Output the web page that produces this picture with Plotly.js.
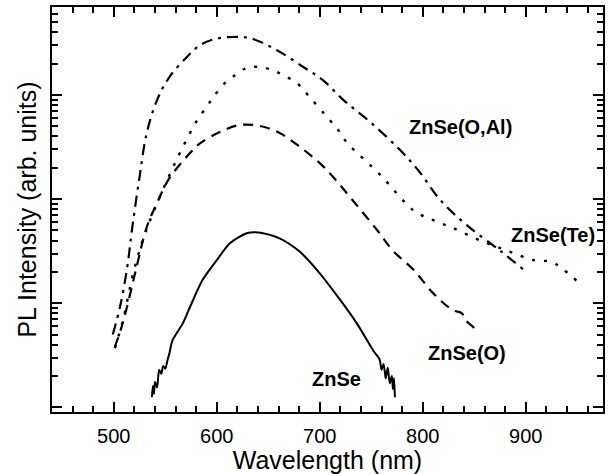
<!DOCTYPE html>
<html>
<head>
<meta charset="utf-8">
<script src="https://cdn.plot.ly/plotly-3.0.1.min.js"></script>
<style>html,body{margin:0;padding:0;background:#fff}#chart{width:610px;height:474px}</style>
</head>
<body>
<div id="chart"></div>
<script>
// ZnSe(O,Al) — dash-dot
const alX = [499, 506, 513, 518, 525, 532, 542, 554, 571, 584, 598, 613, 632, 658, 684, 703, 723, 749, 778, 797, 817, 843, 875, 898];
const alY = [5.0, 9.2, 22, 54, 163, 432, 895, 1490, 2320, 3030, 3450, 3610, 3530, 2710, 1860, 1390, 895, 550, 296, 182, 98, 56, 32, 21];

// ZnSe(Te) — dotted
const teX = [501, 509, 518, 528, 538, 554, 567, 581, 590, 596, 606, 618, 629, 642, 654, 664, 678, 691, 708, 718, 726, 759, 791, 810, 829, 856, 882, 907, 925, 934, 945, 953];
const teY = [3.7, 6.9, 17.8, 40, 73, 170, 316, 575, 767, 935, 1250, 1560, 1820, 1860, 1740, 1560, 1300, 935, 601, 460, 353, 170, 78, 63, 53, 40, 32, 26, 25, 22, 18, 15];

// ZnSe(O) — dashed
const oX = [501, 509, 522, 532, 542, 554, 574, 584, 603, 622, 642, 661, 681, 700, 713, 734, 756, 771, 791, 810, 829, 838, 842, 849, 851];
const oY = [3.8, 6.6, 22, 54, 92, 159, 277, 345, 441, 515, 504, 432, 316, 222, 163, 92, 50, 32, 21, 12.5, 8.6, 8.0, 6.8, 5.9, 5.5];

// ZnSe — solid
const zX = [537, 538, 539, 540, 542, 544, 546, 548, 550, 552, 554, 557, 567, 574, 586, 600, 613, 629, 637, 645, 661, 681, 700, 720, 736, 752, 758, 760, 762, 764, 766, 768, 770, 771, 772, 773];
const zY = [1.25, 1.6, 1.35, 1.75, 1.55, 2.3, 2.1, 2.5, 2.35, 2.8, 3.3, 4.4, 6.4, 9.2, 16.6, 25.9, 37.8, 47, 48, 47, 42, 31, 19.4, 10.7, 6.4, 3.5, 2.9, 2.3, 2.6, 1.9, 2.4, 1.7, 2.0, 1.5, 1.9, 1.25];

const xTickVals = [500, 600, 700, 800, 900];
const labels = ["ZnSe(O,Al)", "ZnSe(Te)", "ZnSe(O)", "ZnSe"];

const FONT = "Liberation Sans, Arial, Helvetica, sans-serif";

const traces = [
  {x: alX, y: alY, mode: 'lines', line: {color: '#000', width: 2.2, dash: '11px,6px,3px,6px', shape: 'spline', smoothing: 1}, name: labels[0]},
  {x: teX, y: teY, mode: 'lines', line: {color: '#000', width: 2.4, dash: '3px,9px', shape: 'spline', smoothing: 1}, name: labels[1]},
  {x: oX, y: oY, mode: 'lines', line: {color: '#000', width: 2.2, dash: '10px,7px', shape: 'spline', smoothing: 1}, name: labels[2]},
  {x: zX, y: zY, mode: 'lines', line: {color: '#000', width: 2, shape: 'spline', smoothing: 0.8}, name: labels[3]}
];

const axisCommon = {
  showline: true, linecolor: '#000', linewidth: 2, mirror: 'ticks',
  ticks: 'inside', ticklen: 10, tickwidth: 2, tickcolor: '#000',
  showgrid: false, zeroline: false
};

const annFont = {size: 20, family: FONT, color: '#000', weight: 'bold'};

const layout = {
  width: 610, height: 474,
  margin: {l: 52, r: 7, t: 7, b: 62},
  paper_bgcolor: '#fff', plot_bgcolor: '#fff',
  showlegend: false,
  font: {family: FONT, color: '#000'},
  xaxis: Object.assign({}, axisCommon, {
    range: [440, 975], tickvals: xTickVals, ticktext: xTickVals.map(String),
    tickfont: {size: 20, family: FONT, color: '#000'},
    ticklabelstandoff: 5,
    minor: {ticks: 'inside', ticklen: 6, tickwidth: 2, tickcolor: '#000', dtick: 20, tick0: 0, showgrid: false},
    title: {text: 'Wavelength (nm)', font: {size: 25, family: FONT, color: '#000'}, standoff: 4}
  }),
  yaxis: Object.assign({}, axisCommon, {
    type: 'log', range: [-0.045, 3.846], dtick: 1, showticklabels: false,
    minor: {ticks: 'inside', ticklen: 6, tickwidth: 2, tickcolor: '#000', dtick: 'D1', showgrid: false},
    title: {text: 'PL Intensity (arb. units)', font: {size: 25, family: FONT, color: '#000'}, standoff: 6}
  }),
  annotations: [
    {text: labels[0], xref: 'paper', yref: 'paper', x: 0.742, y: 0.703, xanchor: 'center', yanchor: 'middle', showarrow: false, font: annFont},
    {text: labels[1], xref: 'paper', yref: 'paper', x: 0.910, y: 0.436, xanchor: 'center', yanchor: 'middle', showarrow: false, font: annFont},
    {text: labels[2], xref: 'paper', yref: 'paper', x: 0.753, y: 0.145, xanchor: 'center', yanchor: 'middle', showarrow: false, font: annFont},
    {text: labels[3], xref: 'paper', yref: 'paper', x: 0.517, y: 0.081, xanchor: 'center', yanchor: 'middle', showarrow: false, font: annFont}
  ]
};

Plotly.newPlot('chart', traces, layout, {staticPlot: true, displayModeBar: false});
</script>
</body>
</html>
